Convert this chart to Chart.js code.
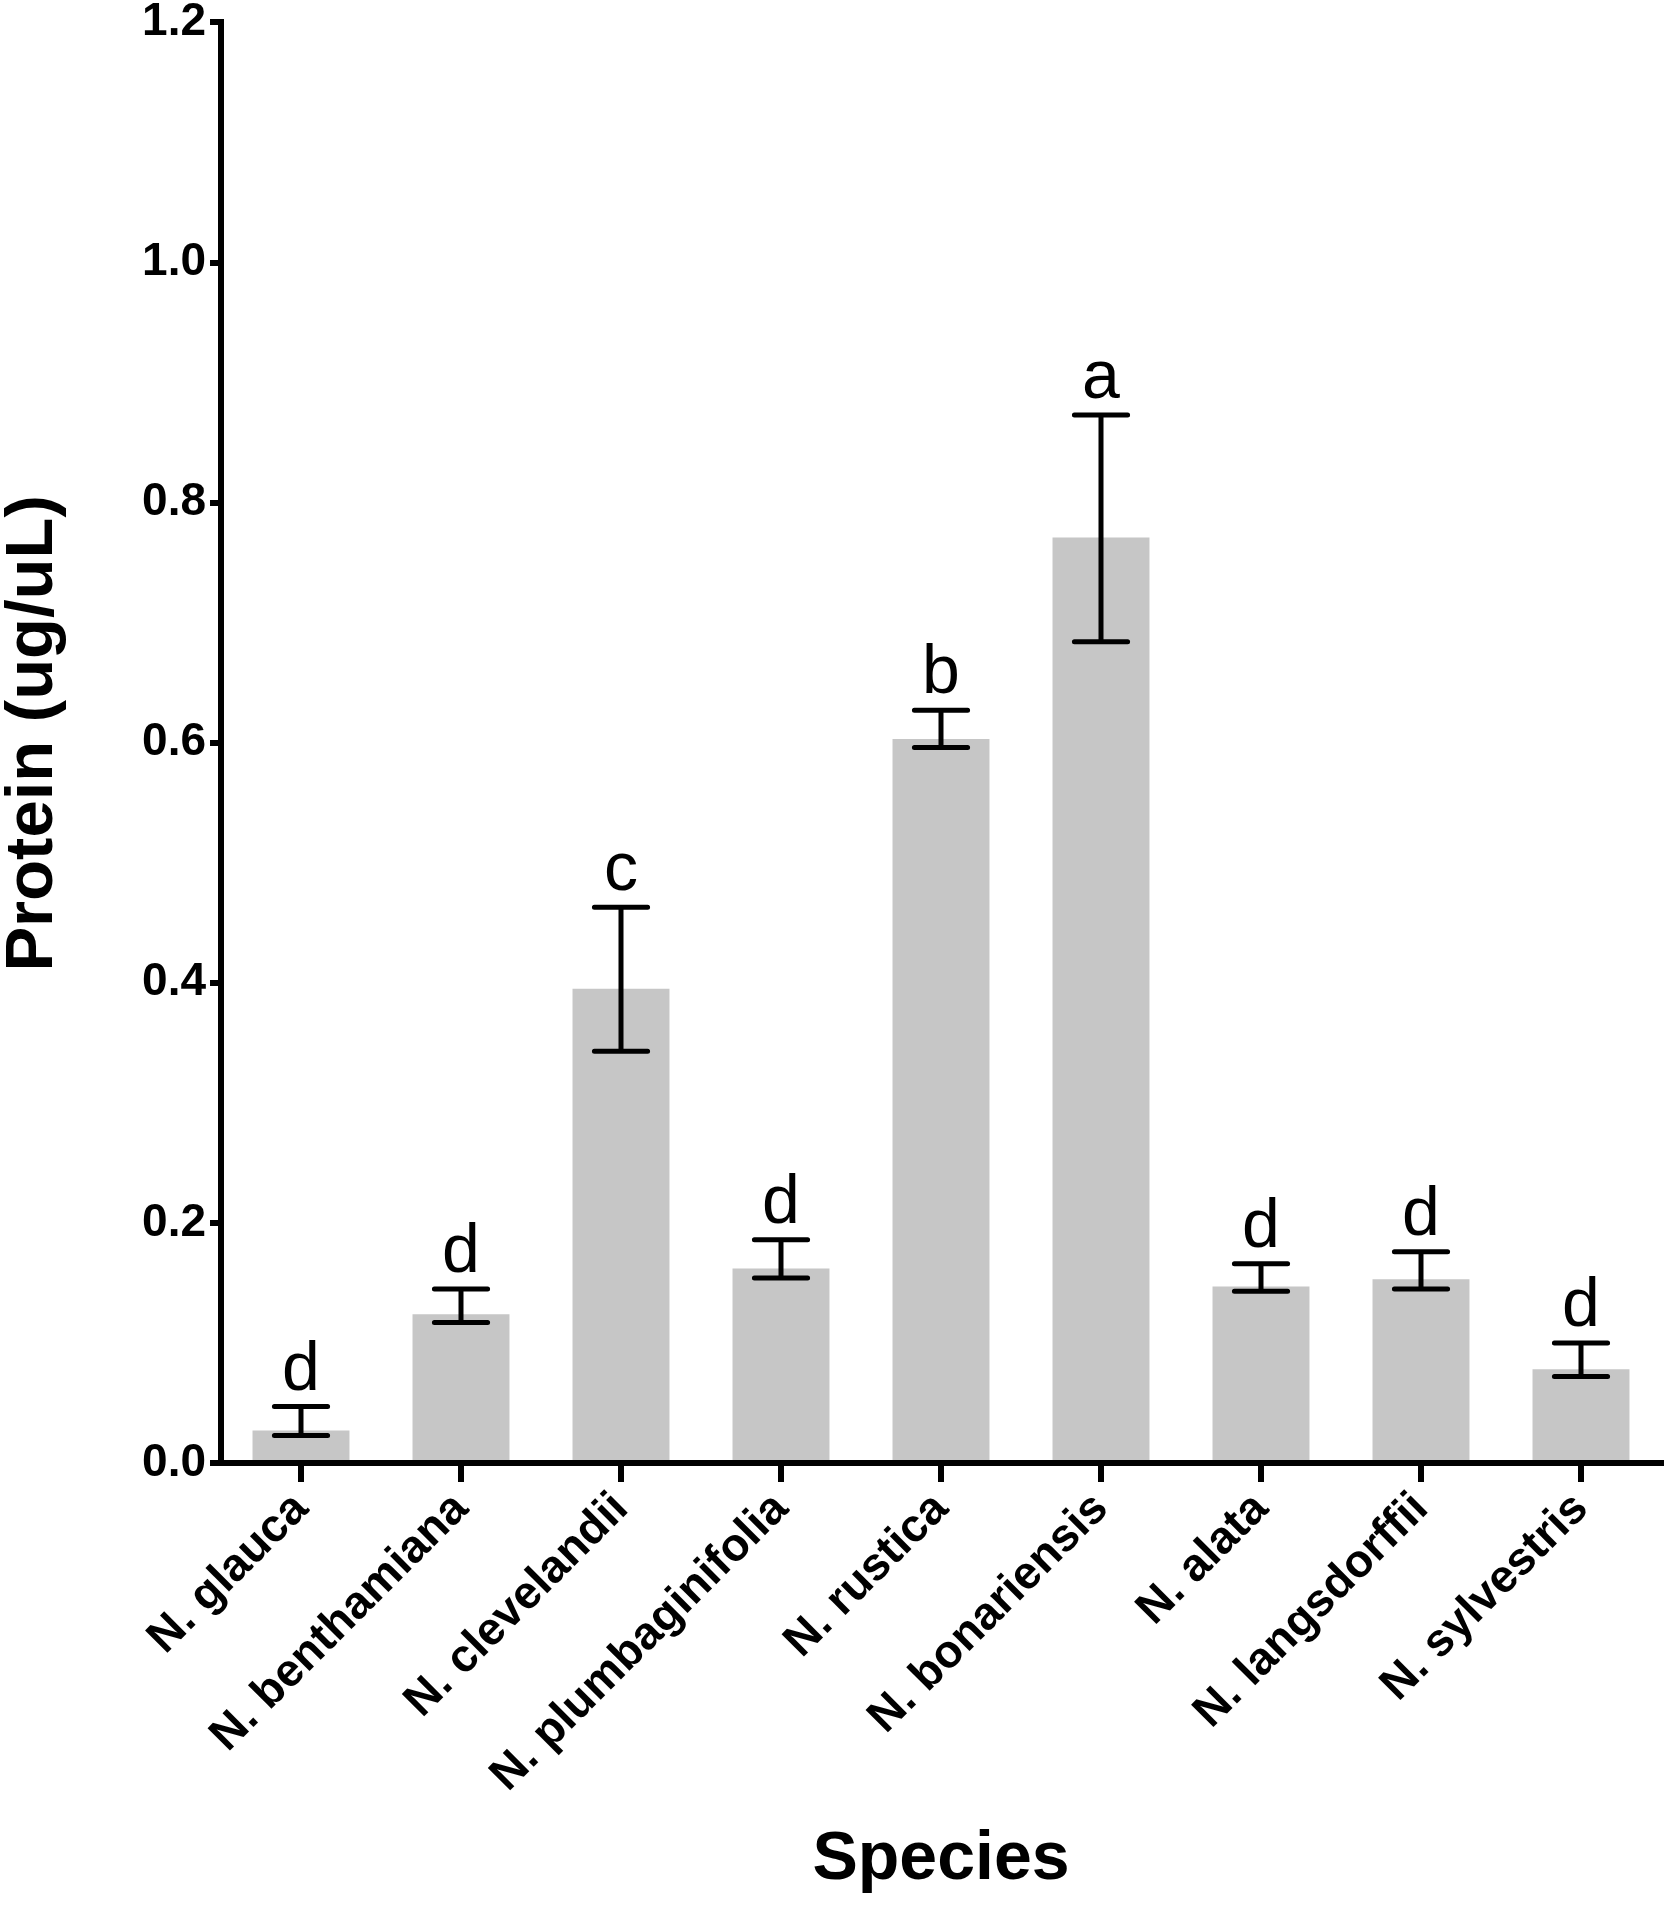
<!DOCTYPE html>
<html>
<head>
<meta charset="utf-8">
<script src="https://cdn.jsdelivr.net/npm/chart.js@4.4.1/dist/chart.umd.min.js"></script>
<style>
html,body{margin:0;padding:0;background:#ffffff;}
#wrap{width:1669px;height:1909px;position:relative;}
</style>
</head>
<body>
<div id="wrap"><canvas id="c" width="1669" height="1909"></canvas></div>
<script>
const categories = ['N. glauca', 'N. benthamiana', 'N. clevelandii', 'N. plumbaginifolia', 'N. rustica', 'N. bonariensis', 'N. alata', 'N. langsdorffii', 'N. sylvestris'];
const means   = [0.027, 0.124, 0.395, 0.162, 0.603, 0.771, 0.147, 0.153, 0.078];
const errLow  = [0.023, 0.117, 0.343, 0.154, 0.596, 0.684, 0.143, 0.145, 0.072];
const errHigh = [0.047, 0.145, 0.463, 0.186, 0.627, 0.873, 0.166, 0.176, 0.100];
const letters = ['d', 'd', 'c', 'd', 'b', 'a', 'd', 'd', 'd'];
const yMin = 0, yMax = 1.2, yStep = 0.2;
const yTitle = ' Protein (ug/uL)';
const xTitle = 'Species';

const FONT = '"Liberation Sans", Arial, Helvetica, sans-serif';

const errorBarPlugin = {
  id: 'errorBars',
  afterDatasetsDraw(chart) {
    const ctx = chart.ctx;
    const xs = chart.scales.x, ys = chart.scales.y;
    const meta = chart.getDatasetMeta(0);
    ctx.save();
    ctx.strokeStyle = '#000';
    ctx.fillStyle = '#000';
    ctx.lineWidth = 5;
    categories.forEach((c, i) => {
      const cx = xs.getPixelForValue(i);
      const bw = meta.data[i].width;
      const half = bw * 0.3 - 2.5;
      const yl = ys.getPixelForValue(errLow[i]);
      const yh = ys.getPixelForValue(errHigh[i]);
      ctx.lineCap = 'butt';
      ctx.beginPath();
      ctx.moveTo(cx, yl);
      ctx.lineTo(cx, yh);
      ctx.stroke();
      ctx.lineCap = 'round';
      ctx.beginPath();
      ctx.moveTo(cx - half, yl); ctx.lineTo(cx + half, yl);
      ctx.moveTo(cx - half, yh); ctx.lineTo(cx + half, yh);
      ctx.stroke();
      ctx.font = '68px ' + FONT;
      ctx.textAlign = 'center';
      ctx.textBaseline = 'alphabetic';
      ctx.fillText(letters[i], cx, yh - 17);
    });
    ctx.restore();
  }
};

new Chart(document.getElementById('c'), {
  type: 'bar',
  data: {
    labels: categories,
    datasets: [{
      data: means,
      backgroundColor: 'rgb(198,198,198)',
      borderWidth: 0,
      barPercentage: 0.606,
      categoryPercentage: 1.0
    }]
  },
  options: {
    responsive: false,
    devicePixelRatio: 1,
    animation: false,
    layout: { padding: { top: 20, right: 8, left: 0, bottom: 0 } },
    plugins: { legend: { display: false }, tooltip: { enabled: false } },
    scales: {
      x: {
        offset: true,
        grid: { display: true, offset: false, drawOnChartArea: false, drawTicks: true, tickLength: 19, tickWidth: 6, tickColor: '#000', color: '#000', lineWidth: 6 },
        border: { display: true, color: '#000', width: 6 },
        ticks: { autoSkip: false, minRotation: 45, maxRotation: 45, padding: 0, color: '#000', font: { family: FONT, size: 46, weight: 'bold' } },
        title: { display: true, text: xTitle, color: '#000', font: { family: FONT, size: 68, weight: 'bold', lineHeight: 1 }, padding: { top: 0, bottom: 15 } },
        afterFit(scale) { scale.height = 446; }
      },
      y: {
        min: yMin, max: yMax,
        grid: { display: true, drawOnChartArea: false, drawTicks: true, tickLength: 11, tickWidth: 6, tickColor: '#000', color: '#000', lineWidth: 6 },
        border: { display: true, color: '#000', width: 6 },
        ticks: { stepSize: yStep, padding: 4, color: '#000', font: { family: FONT, size: 46, weight: 'bold', lineHeight: 0.8 }, callback: v => Number(v).toFixed(1) },
        title: { display: true, text: yTitle, color: '#000', font: { family: FONT, size: 67, weight: 'bold', lineHeight: 1 }, padding: { top: 0, bottom: 0 } },
        afterFit(scale) { scale.width = 221; }
      }
    }
  },
  plugins: [errorBarPlugin]
});
</script>
</body>
</html>
